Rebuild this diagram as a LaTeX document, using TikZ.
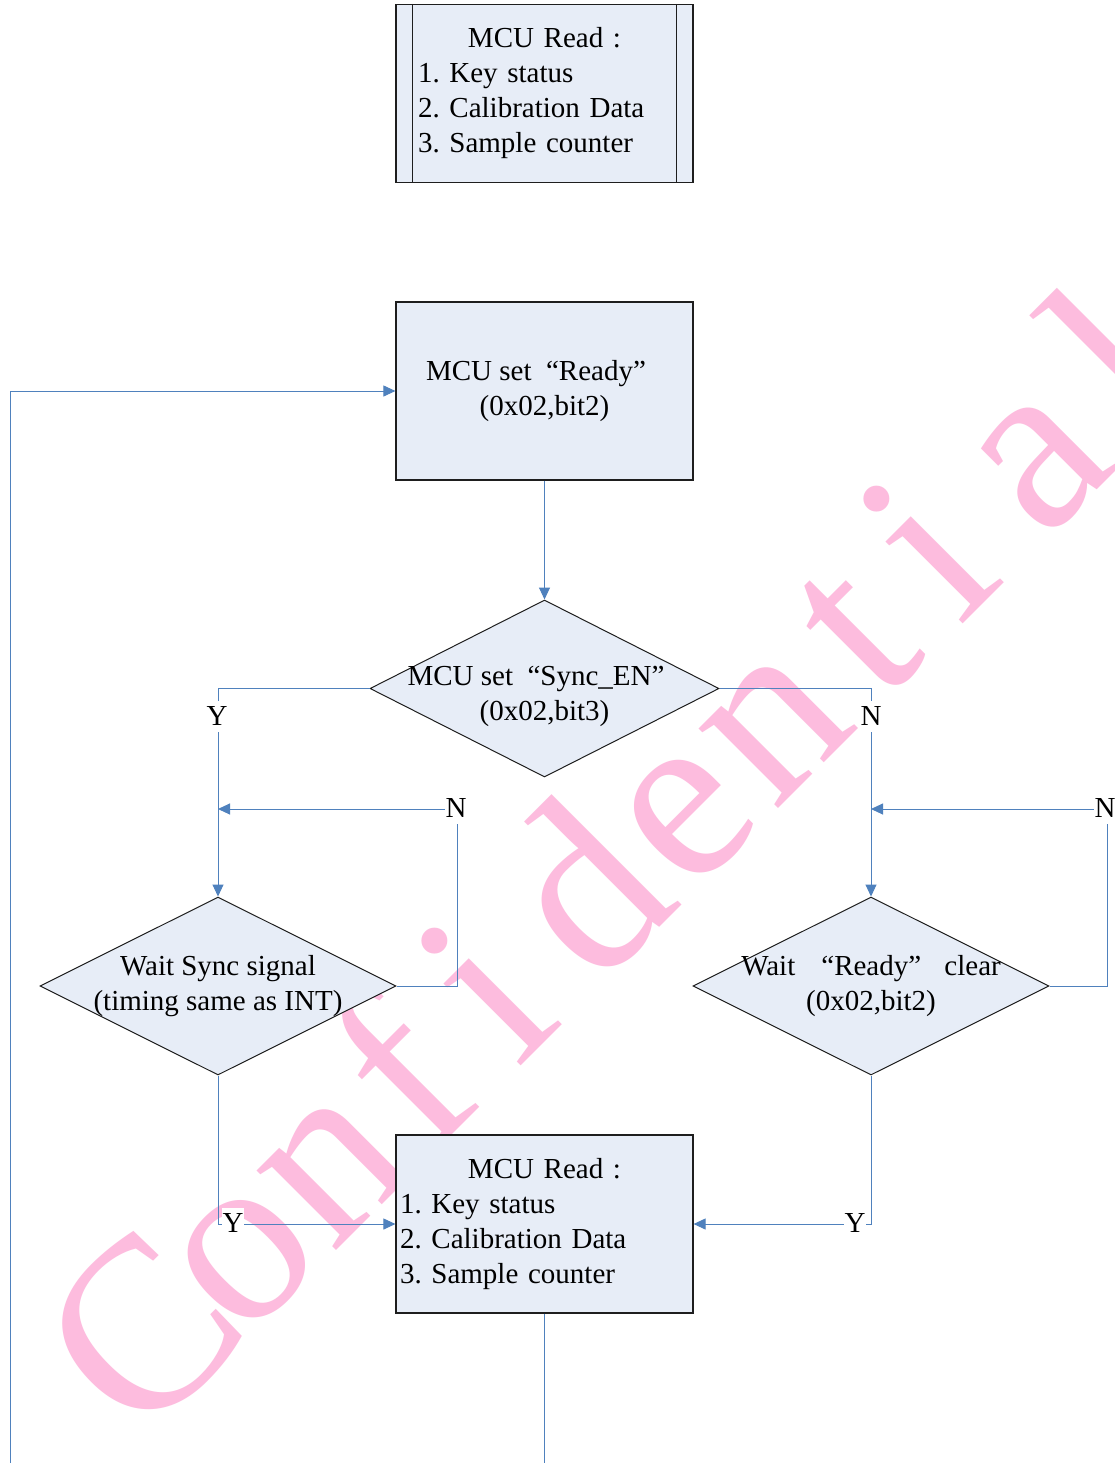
\documentclass[tikz,border=0pt]{standalone}
\usepackage{fontspec}
\setmainfont{Liberation Serif}
\usetikzlibrary{shapes.geometric,arrows.meta}
\definecolor{boxfill}{RGB}{231,237,247}
\definecolor{conncol}{RGB}{79,129,189}
\definecolor{edgecol}{RGB}{30,30,30}
\definecolor{wmcol}{RGB}{253,188,222}
\frenchspacing
\begin{document}
\begin{tikzpicture}[x=1pt,y=-1pt,
  font=\fontsize{29}{35}\selectfont\frenchspacing,
  procbox/.style={draw=edgecol, line width=1.2pt, fill=boxfill, rectangle,
    minimum width=297pt, minimum height=178pt, align=left, inner ysep=0pt},
  stepbox/.style={draw=edgecol, line width=1.2pt, fill=boxfill, rectangle,
    minimum width=297pt, minimum height=178pt, align=center, inner sep=0pt},
  dec/.style={diamond, draw=edgecol, line width=1pt, fill=boxfill, inner sep=0pt},
  txt/.style={align=center, inner sep=0pt},
  arr/.style={draw=conncol, line width=1pt, -{Triangle[length=12pt,width=11pt]}},
  ln/.style={draw=conncol, line width=1pt},
  lab/.style={fill=white, inner xsep=1pt, inner ysep=6pt},
  wmletter/.style={rotate=45, anchor=base, inner sep=0pt, text=wmcol,
    font=\fontsize{245}{245}\selectfont},
]
\fill[white] (0,0) rectangle (1115,1463);
\useasboundingbox (0,0) rectangle (1115,1463);

% watermark "Confidential", letters evenly spaced along a 45 degree line
\foreach \ch/\px/\py [count=\i] in {
  C/198.7/1388.0, o/287.1/1299.6, n/375.5/1211.2, f/458.2/1128.6,
  i/541.7/1045.1, d/640.7/946.1, e/729.0/857.7, n/817.4/769.3,
  t/905.8/680.9, i/983.6/603.2, a/1082.6/504.2, l/1171.0/415.8}
  \node[wmletter] (wm\i) at (\px,\py) {\ch};

% shapes
\node[procbox, text width=253pt, inner xsep=22pt] (box1) at (544.5,93.5)
  {\makebox[\linewidth]{MCU Read :}\\1. Key status\\2. Calibration Data\\3. Sample counter};
\draw[edgecol, line width=1.2pt] ([xshift=17pt]box1.north west) -- ([xshift=17pt]box1.south west);
\draw[edgecol, line width=1.2pt] ([xshift=-17pt]box1.north east) -- ([xshift=-17pt]box1.south east);

\node[stepbox] (box2) at (544.5,391)
  {MCU set\hspace{0.5em}“Ready”\kern17pt\\(0x02,bit2)};

\node[dec, minimum width=349pt, minimum height=177pt] (d1) at (544.5,688.5) {};
\node[txt] (t1) at (544.5,696) {MCU set\hspace{0.5em}“Sync\_EN”\kern17pt\\(0x02,bit3)};

\node[dec, minimum width=356pt, minimum height=178pt] (d2) at (218,986) {};
\node[txt] (t2) at (218,986) {Wait Sync signal\\(timing same as INT)};

\node[dec, minimum width=356pt, minimum height=178pt] (d3) at (871,986) {};
\node[txt] (t3) at (871,986) {Wait\hspace{0.9em}“Ready”\hspace{0.8em}clear\\(0x02,bit2)};

\node[procbox, text width=289pt, inner xsep=4pt] (box3) at (544.5,1224)
  {\makebox[\linewidth]{MCU Read :}\\1. Key status\\2. Calibration Data\\3. Sample counter};

% connectors
\draw[arr] (box2.south) -- (d1.north);

\draw[arr] (d1.west) -| (d2.north);
\node[lab] (y1) at (217,716) {Y};
\draw[arr] (d1.east) -| (d3.north);
\node[lab] (n1) at (871,716) {N};

\coordinate (c1) at (457,986);
\coordinate (c2) at (457,809);
\draw[arr] (d2.east) -- (c1) -- (c2) -- (d2.north |- c2);
\node[lab] (n2) at (456,808) {N};

\coordinate (c3) at (1107,986);
\coordinate (c4) at (1107,809);
\draw[arr] (d3.east) -- (c3) -- (c4) -- (d3.north |- c4);
\node[lab] (n3) at (1105,808) {N};

\draw[arr] (d2.south) |- (box3.west);
\node[lab] (y2) at (233,1223) {Y};
\draw[arr] (d3.south) |- (box3.east);
\node[lab] (y3) at (855,1223) {Y};

\coordinate (bot) at (544.5,1463);
\draw[ln] (box3.south) -- (bot);
\coordinate (lft) at (10,1463);
\draw[arr] (lft) |- (box2.west);
\end{tikzpicture}
\end{document}
